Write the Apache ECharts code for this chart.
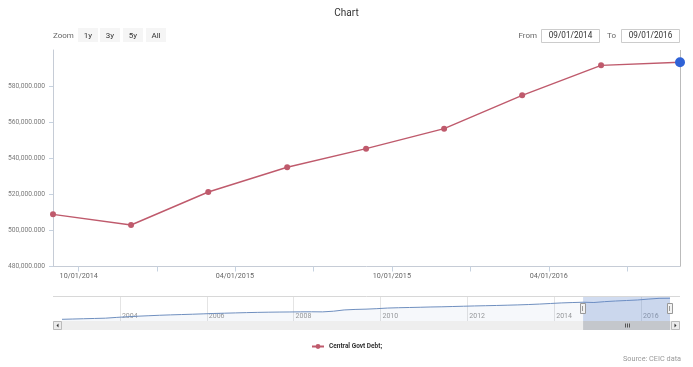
<!DOCTYPE html>
<html>
<head>
<meta charset="utf-8">
<script src="https://cdn.jsdelivr.net/npm/echarts@6/dist/echarts.min.js"></script>
<style>
html,body{margin:0;padding:0;background:#fff;}
#c{width:693px;height:367px;}
</style>
</head>
<body>
<div id="c"></div>
<script>
// ---- data ----
const seriesName = 'Central Govt Debt;';
const mainDates = ['2014-09-01','2014-12-01','2015-03-01','2015-06-01','2015-09-01','2015-12-01','2016-03-01','2016-06-01','2016-09-01'];
const mainValues = [508900, 503000, 521300, 535000, 545300, 556400, 574900, 591500, 593200];

const navDates = [
  '2002-09-01','2002-12-01',
  '2003-03-01','2003-06-01','2003-09-01','2003-12-01',
  '2004-03-01','2004-06-01','2004-09-01','2004-12-01',
  '2005-03-01','2005-06-01','2005-09-01','2005-12-01',
  '2006-03-01','2006-06-01','2006-09-01','2006-12-01',
  '2007-03-01','2007-06-01','2007-09-01','2007-12-01',
  '2008-03-01','2008-06-01','2008-09-01','2008-12-01',
  '2009-03-01','2009-06-01','2009-09-01','2009-12-01',
  '2010-03-01','2010-06-01','2010-09-01','2010-12-01',
  '2011-03-01','2011-06-01','2011-09-01','2011-12-01',
  '2012-03-01','2012-06-01','2012-09-01','2012-12-01',
  '2013-03-01','2013-06-01','2013-09-01','2013-12-01',
  '2014-03-01','2014-06-01'
];
const navValues = [
  146000, 152000,
  158000, 164000, 170000, 186000,
  200000, 212000, 222000, 232000,
  240000, 247000, 254000, 262000,
  270000, 276000, 282000, 288000,
  293000, 297000, 300000, 302000,
  305000, 306000, 304000, 318000,
  345000, 356000, 362000, 372000,
  385000, 392000, 397000, 402000,
  408000, 412000, 418000, 424000,
  430000, 435000, 440000, 446000,
  452000, 460000, 470000, 482000,
  494000, 502000
];

const yTicks = {min: 480000, max: 600000, step: 20000};
const xLabelDates = ['2014-10-01','2015-04-01','2015-10-01','2016-04-01'];
const xTickDates = ['2014-10-01','2015-01-01','2015-04-01','2015-07-01','2015-10-01','2016-01-01','2016-04-01','2016-07-01'];
const navYearDates = ['2004-01-01','2006-01-01','2008-01-01','2010-01-01','2012-01-01','2014-01-01','2016-01-01'];
const zoomButtons = ['1y','3y','5y','All'];
const fromDate = '09/01/2014';
const toDate = '09/01/2016';

// ---- helpers ----
function ts(s){ const p = s.split('-').map(Number); return new Date(p[0], p[1]-1, p[2]).getTime(); }
function pad(n){ return (n<10?'0':'')+n; }
function fmtDate(v){ const d=new Date(v); return pad(d.getMonth()+1)+'/'+pad(d.getDate())+'/'+d.getFullYear(); }
function fmtNum(v){ const s = Math.round(v).toString().replace(/\B(?=(\d{3})+(?!\d))/g, ','); return s + '.000'; }

const FONT = 'Roboto, Arial, sans-serif';
const mainColor = '#bf5a6c';
const hoverColor = '#2f62d6';

const mainData = mainDates.map((d,i)=>{
  const item = {value:[ts(d), mainValues[i]]};
  if (i === mainDates.length-1) {
    item.symbolSize = 10;
    item.itemStyle = {color: hoverColor};
  }
  return item;
});
const allNavDates = navDates.concat(mainDates);
const allNavValues = navValues.concat(mainValues);
const navData = allNavDates.map((d,i)=>[ts(d), allNavValues[i]]);

const chart = echarts.init(document.getElementById('c'), null, {renderer:'canvas'});

const option = {
  animation: false,
  backgroundColor: '#fff',
  textStyle: {fontFamily: FONT},
  title: [
    {text: 'Chart', left: 'center', top: 3, textStyle:{fontFamily: FONT, fontSize: 10, fontWeight:'normal', color:'#333'}},
    {text: 'Source: CEIC data', right: 7, top: 351, textStyle:{fontFamily: FONT, fontSize: 7.3, fontWeight:'normal', color:'#999'}}
  ],
  legend: {
    data: [seriesName],
    left: 306, top: 338,
    itemWidth: 12, itemHeight: 6, itemGap: 4,
    textStyle: {fontFamily: FONT, fontSize: 6.5, fontWeight: 'bold', color: '#333'}
  },
  grid: [
    {left: 53, right: 13, top: 50, height: 216.5},
    {left: 62, right: 23, top: 297, height: 24}
  ],
  xAxis: [
    {
      type: 'value', gridIndex: 0, scale: true,
      min: ts(mainDates[0]), max: ts(mainDates[mainDates.length-1]),
      axisLine: {show: true, onZero: false, lineStyle: {color: '#c6ccd6', width: 1}},
      axisTick: {show: true, length: 5, lineStyle: {color: '#c6d2e0'}, customValues: xTickDates.map(ts)},
      axisLabel: {show: true, customValues: xLabelDates.map(ts), formatter: fmtDate, fontFamily: FONT, fontSize: 7.2, color: '#666', margin: 6},
      splitLine: {show: false}
    },
    {
      type: 'value', gridIndex: 1, scale: true,
      min: ts(allNavDates[0]), max: ts(allNavDates[allNavDates.length-1]),
      axisLine: {show: false, onZero: false},
      axisTick: {show: false},
      axisLabel: {show: true, inside: true, customValues: navYearDates.map(ts), formatter: v => String(new Date(v).getFullYear()), align: 'left', padding: [0,0,0,2], fontFamily: FONT, fontSize: 7, color: '#999', margin: 1},
      splitLine: {show: false}
    }
  ],
  yAxis: [
    {
      type: 'value', gridIndex: 0,
      min: yTicks.min, max: yTicks.max, interval: yTicks.step,
      axisLine: {show: true, lineStyle: {color: '#c6ccd6', width: 1}},
      axisTick: {show: true, length: 4, lineStyle: {color: '#c6d2e0'}},
      axisLabel: {show: true, showMaxLabel: false, formatter: fmtNum, fontFamily: FONT, fontSize: 6.7, color: '#7a7a7a', margin: 8, padding: [0,0,5,0]},
      splitLine: {show: false}
    },
    {
      type: 'value', gridIndex: 1, min: 110000, max: 620000,
      show: false, splitLine: {show: false}
    }
  ],
  series: [
    {
      name: seriesName, type: 'line', xAxisIndex: 0, yAxisIndex: 0,
      data: mainData,
      color: mainColor,
      symbol: 'circle', symbolSize: 6,
      lineStyle: {width: 1.4, color: mainColor},
      itemStyle: {color: mainColor},
      clip: false,
      z: 5,
      markLine: {
        silent: true, symbol: 'none', animation: false,
        label: {show: false},
        lineStyle: {color: '#bbbbbb', width: 1, type: 'solid'},
        data: [{xAxis: ts(mainDates[mainDates.length-1])}],
        z: 1
      }
    },
    {
      name: 'nav', type: 'line', xAxisIndex: 1, yAxisIndex: 1,
      data: navData,
      showSymbol: false, symbol: 'none',
      lineStyle: {width: 1, color: '#6f8fbf'},
      areaStyle: {color: 'rgba(69,114,167,0.07)', origin: 'start'},
      silent: true,
      z: 3,
      markLine: {
        silent: true, symbol: 'none', animation: false,
        label: {show: false},
        lineStyle: {color: '#e4e4e4', width: 1, type: 'solid'},
        data: navYearDates.map(d => ({xAxis: ts(d)})),
        z: 1
      }
    }
  ]
};
chart.setOption(option);

// ---- UI chrome (buttons, inputs, navigator selection, scrollbar) ----
const selL = chart.convertToPixel({xAxisIndex: 1}, ts(mainDates[0]));
const selR = chart.convertToPixel({xAxisIndex: 1}, ts(mainDates[mainDates.length-1]));
const navTop = 297, navBot = 321;
const g = [];
g.push({type:'text', style:{text:'Zoom', x:53, y:35.5, font:'8px '+FONT, fill:'#666', verticalAlign:'middle'}});
const btnX = [78, 100, 123, 146];
zoomButtons.forEach((b,i)=>{
  g.push({type:'rect', shape:{x:btnX[i], y:28, width:20, height:14}, style:{fill:'#f5f5f5'}});
  g.push({type:'text', style:{text:b, x:btnX[i]+10, y:35.5, font:'8px '+FONT, fill:'#333', align:'center', verticalAlign:'middle'}});
});
g.push({type:'text', style:{text:'From', x:537, y:36, font:'8px '+FONT, fill:'#666', align:'right', verticalAlign:'middle'}});
g.push({type:'rect', shape:{x:541.5, y:29.5, width:58, height:13}, style:{fill:'#fff', stroke:'#cccccc', lineWidth:1}});
g.push({type:'text', style:{text:fromDate, x:570.5, y:36, font:'8.2px '+FONT, fill:'#333', align:'center', verticalAlign:'middle'}});
g.push({type:'text', style:{text:'To', x:607, y:36, font:'8px '+FONT, fill:'#666', align:'left', verticalAlign:'middle'}});
g.push({type:'rect', shape:{x:621.5, y:29.5, width:58, height:13}, style:{fill:'#fff', stroke:'#cccccc', lineWidth:1}});
g.push({type:'text', style:{text:toDate, x:650.5, y:36, font:'8.2px '+FONT, fill:'#333', align:'center', verticalAlign:'middle'}});
g.push({type:'line', shape:{x1:53, y1:navTop-0.5, x2:680, y2:navTop-0.5}, style:{stroke:'#d8d8d8', lineWidth:1}, z: 10});
g.push({type:'rect', shape:{x:selL, y:navTop, width:selR-selL, height:navBot-navTop}, style:{fill:'rgba(102,140,204,0.3)'}, z: 10});
[selL, selR].forEach(x=>{
  g.push({type:'rect', shape:{x:Math.round(x)-2.5, y:303.5, width:5, height:10}, style:{fill:'#f2f2f2', stroke:'#999', lineWidth:1}, z: 12});
  g.push({type:'line', shape:{x1:Math.round(x)-0.5, y1:306, x2:Math.round(x)-0.5, y2:311}, style:{stroke:'#999', lineWidth:1}, z: 12});
});
g.push({type:'rect', shape:{x:53, y:321, width:627, height:9}, style:{fill:'#eeeeee'}, z: 10});
g.push({type:'rect', shape:{x:selL, y:321, width:selR-selL, height:9}, style:{fill:'#c4c7cc'}, z: 11});
const gx = (selL+selR)/2;
[-2,0,2].forEach(o=>{
  g.push({type:'line', shape:{x1:Math.round(gx)+o+0.5, y1:323.5, x2:Math.round(gx)+o+0.5, y2:327.5}, style:{stroke:'#555', lineWidth:1}, z: 12});
});
g.push({type:'rect', shape:{x:53.5, y:321.5, width:8, height:8}, style:{fill:'#ebebeb', stroke:'#bbb', lineWidth:1}, z: 12});
g.push({type:'polygon', shape:{points:[[56.5,325.5],[58.5,323.5],[58.5,327.5]]}, style:{fill:'#333'}, z: 13});
g.push({type:'rect', shape:{x:671.5, y:321.5, width:8, height:8}, style:{fill:'#ebebeb', stroke:'#bbb', lineWidth:1}, z: 12});
g.push({type:'polygon', shape:{points:[[676.5,325.5],[674.5,323.5],[674.5,327.5]]}, style:{fill:'#333'}, z: 13});

chart.setOption({graphic: g});
</script>
</body>
</html>
